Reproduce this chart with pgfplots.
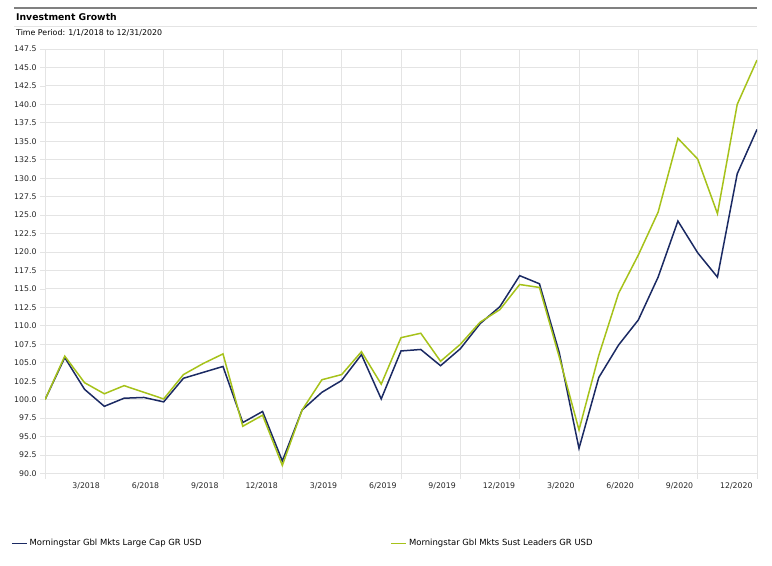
\documentclass[border=0pt]{standalone}
\usepackage{fontspec}
\setmainfont{DejaVu Sans}
\usepackage{pgfplots}
\usepackage{pgfplotstable}
\pgfplotsset{compat=1.18}
\definecolor{navyline}{HTML}{1B2A63}
\definecolor{greenline}{HTML}{A6C21A}
\definecolor{gridc}{HTML}{E4E4E4}
\pgfplotstableread{
m navy green
0 100.0 100.0
1 105.7 105.9
2 101.4 102.3
3 99.1 100.8
4 100.2 101.9
5 100.3 101.0
6 99.7 100.1
7 102.9 103.4
8 103.7 104.9
9 104.5 106.2
10 96.9 96.4
11 98.4 97.9
12 91.7 91.1
13 98.6 98.6
14 101.0 102.7
15 102.6 103.4
16 106.1 106.5
17 100.1 102.1
18 106.6 108.4
19 106.8 109.0
20 104.6 105.2
21 106.9 107.5
22 110.3 110.5
23 112.6 112.2
24 116.8 115.6
25 115.7 115.2
26 106.4 105.8
27 93.4 95.9
28 103.0 106.0
29 107.4 114.4
30 110.8 119.6
31 116.6 125.4
32 124.2 135.4
33 119.9 132.6
34 116.6 125.2
35 130.6 140.0
36 136.6 146.0
}\growth
\begin{document}
\begin{tikzpicture}
\useasboundingbox (0,0) rectangle (772bp,-566bp);
\draw[line width=1.5bp, color=black!50] (14bp,-8bp) -- (757bp,-8bp);
\node[anchor=west, font=\fontsize{9.3}{10}\selectfont\bfseries, inner sep=0pt] at (16bp,-17bp) {Investment Growth};
\draw[line width=0.8bp, gridc] (14bp,-26.5bp) -- (757bp,-26.5bp);
\node[anchor=west, font=\fontsize{7.9}{9}\selectfont, inner sep=0pt] at (16bp,-33bp) {Time Period: 1/1/2018 to 12/31/2020};
\begin{axis}[
  at={(45bp,-473.5bp)}, anchor=south west,
  width=712bp, height=424.5bp, scale only axis,
  xmin=0, xmax=36, ymin=90, ymax=147.5,
  xtick={0,3,6,9,12,15,18,21,24,27,30,33,36},
  xticklabels={,3/2018,6/2018,9/2018,12/2018,3/2019,6/2019,9/2019,12/2019,3/2020,6/2020,9/2020,12/2020},
  ytick={90,92.5,95,97.5,100,102.5,105,107.5,110,112.5,115,117.5,120,122.5,125,127.5,130,132.5,135,137.5,140,142.5,145,147.5},
  yticklabel style={/pgf/number format/.cd, fixed, fixed zerofill, precision=1, assume math mode=true},
  xticklabel style={anchor=north east, xshift=-1bp, yshift=-1bp},
  tick label style={font=\fontsize{7.8}{9}\selectfont, text=black!85},
  xtick pos=bottom, ytick pos=left,
  tick align=outside, major tick length=5bp,
  tick style={gridc, line width=0.8bp},
  grid=major, major grid style={gridc, line width=0.9bp},
  axis line style={gridc, line width=0.9bp},
  legend columns=2,
  legend cell align=left,
  legend style={draw=none, fill=none, at={(-0.0478,-0.1645)}, anchor=west, inner sep=0pt,
    font=\fontsize{8.5}{10}\selectfont,
    /tikz/every even column/.append style={column sep=187bp}},
  legend image code/.code={\draw[#1, line width=1.5bp] (0bp,0bp) -- (15bp,0bp);},
]
\addplot[navyline, line width=1.5bp] table[x=m, y=navy] {\growth};
\addlegendentry{Morningstar Gbl Mkts Large Cap GR USD}
\addplot[greenline, line width=1.5bp] table[x=m, y=green] {\growth};
\addlegendentry{Morningstar Gbl Mkts Sust Leaders GR USD}
\end{axis}
\end{tikzpicture}
\end{document}
